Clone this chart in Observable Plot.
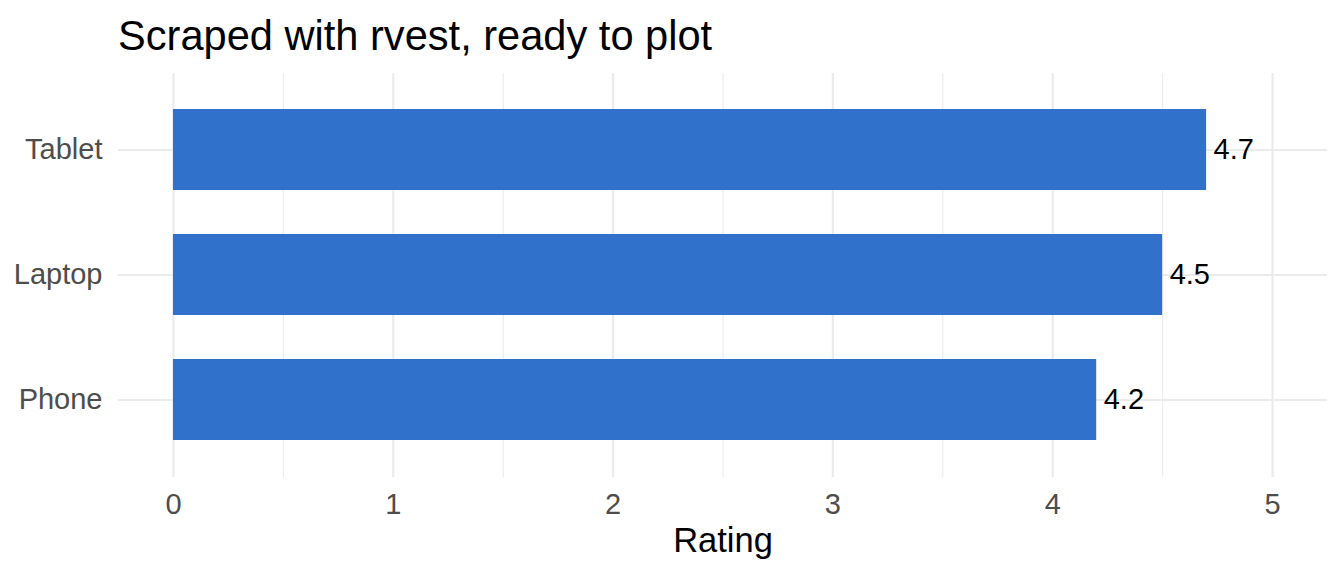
<!DOCTYPE html>
<html>
<head>
<meta charset="utf-8">
<script src="https://cdn.jsdelivr.net/npm/d3@7"></script>
<script src="https://cdn.jsdelivr.net/npm/@observablehq/plot@0.6"></script>
<style>
  html, body { margin: 0; padding: 0; background: #fff; }
  #wrap { width: 1344px; height: 576px; position: relative; overflow: hidden; font-family: "Liberation Sans", Arial, Helvetica, sans-serif; }
  #title { box-sizing: border-box; height: 60px; padding-top: 16px; padding-left: 118px; font-size: 41.6px; line-height: 40px; color: #000; white-space: nowrap; }
  svg { display: block; }
</style>
</head>
<body>
<div id="wrap">
  <div id="title">Scraped with rvest, ready to plot</div>
  <div id="chart"></div>
</div>
<script>
const products = ["Tablet", "Laptop", "Phone"];
const ratings = [4.7, 4.5, 4.2];
const majorTicks = [0, 1, 2, 3, 4, 5];
const minorTicks = [0.5, 1.5, 2.5, 3.5, 4.5];
const xTitle = "Rating";

const data = products.map((p, i) => ({product: p, rating: ratings[i]}));
const font = '"Liberation Sans", Arial, Helvetica, sans-serif';

const chart = Plot.plot({
  width: 1344,
  height: 516,
  marginTop: 13,
  marginBottom: 99,
  marginLeft: 118,
  marginRight: 17,
  style: {fontFamily: font, background: "#fff"},
  x: {domain: [-0.25, 5.25]},
  y: {type: "band", domain: products, paddingInner: 0.35, paddingOuter: 0.28},
  marks: [
    Plot.ruleX(minorTicks, {x: d => d, stroke: "#ebebeb", strokeWidth: 1.1}),
    Plot.ruleX(majorTicks, {x: d => d, stroke: "#ebebeb", strokeWidth: 2.2}),
    Plot.gridY(products, {stroke: "#ebebeb", strokeOpacity: 1, strokeWidth: 2.2}),
    Plot.barX(data, {x: "rating", y: "product", fill: "#3071CC"}),
    Plot.text(data, {x: "rating", y: "product", text: d => d.rating.toFixed(1), textAnchor: "start", dx: 7, fontSize: 29, fill: "#000"}),
    Plot.axisX(majorTicks, {tickSize: 0, tickPadding: 16, fontSize: 29, fill: "#4d4d4d", label: null, tickFormat: d => String(d)}),
    Plot.axisY(products, {tickSize: 0, tickPadding: 16, fontSize: 29, fill: "#4d4d4d", label: null}),
    Plot.text([xTitle], {frameAnchor: "bottom", dy: 74, fontSize: 34.5, fill: "#000", text: d => d})
  ]
});
document.getElementById("chart").appendChild(chart);
</script>
</body>
</html>
